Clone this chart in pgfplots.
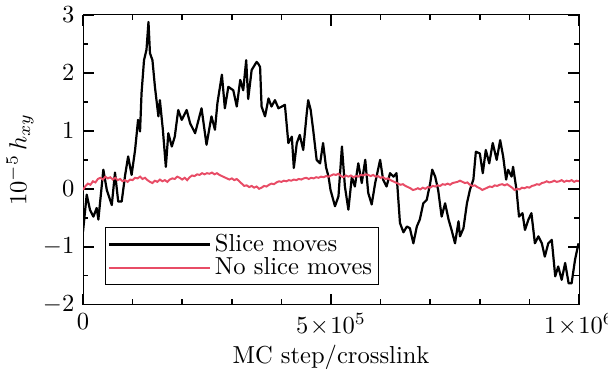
\documentclass[border=0pt]{standalone}
\usepackage{pgfplots}
\pgfplotsset{compat=1.18}
\definecolor{myred}{RGB}{232,76,102}
\pgfplotstableread{
x y
0 -0.74
7500 -0.10
14000 -0.36
21000 -0.48
27600 -0.33
31000 -0.53
41000 0.33
48000 -0.02
58000 -0.28
64500 0.28
71000 -0.22
78000 -0.22
85000 0.24
91000 0.56
98000 0.24
105000 0.67
111000 1.19
115000 0.99
118000 1.65
123000 2.22
128000 2.40
132000 2.88
135000 2.34
140000 2.22
145000 1.76
152000 1.25
155000 1.53
161000 1.02
167000 0.38
172000 0.96
179000 0.73
185000 0.90
192000 1.36
199000 1.19
209000 1.36
216000 1.13
226000 0.96
239000 1.39
249000 0.76
259000 1.25
266000 1.02
271000 1.48
280000 1.97
286000 1.39
293000 1.76
303000 1.70
310000 1.42
317000 1.88
323000 1.70
329000 2.22
333000 1.55
340000 2.05
350000 2.19
354000 2.15
357000 2.10
360000 1.42
367000 1.25
374000 1.56
380000 1.42
387000 1.53
394000 1.39
401000 1.42
407000 1.45
414000 0.79
421000 0.90
425000 0.36
431000 0.79
437000 0.93
444000 0.67
451000 1.30
454000 1.53
459000 1.36
464000 1.02
471000 0.50
478000 0.44
484000 0.79
490000 0.37
495000 0.21
499000 -0.02
508000 -0.30
515000 -0.13
522000 0.73
528000 0.04
535000 -0.36
542000 0.21
548000 0.04
555000 0.44
562000 0.10
569000 0.50
575000 -0.07
582000 -0.27
589000 0.10
599000 0.50
605000 0.16
612000 0.04
619000 0.27
626000 0.21
632000 0.27
639000 -0.59
646000 -0.75
653000 -0.65
659000 -0.68
666000 -0.94
673000 -0.65
679000 -0.53
686000 -0.25
693000 -0.19
700000 0.10
704000 0.33
710000 0.21
716000 -0.02
723000 -0.48
730000 -0.25
737000 -0.53
743000 -0.71
750000 -0.94
757000 -0.56
760000 -0.82
767000 -0.68
774000 -0.25
780000 -0.02
787000 0.16
792000 0.64
800000 0.61
806000 0.27
812000 0.67
819000 0.44
826000 0.79
834000 0.50
841000 0.84
847000 0.56
853000 0.16
857000 0.33
864000 0.21
867000 0.38
874000 -0.02
879000 -0.48
886000 -0.42
891000 -0.71
898000 -0.53
904000 -0.42
911000 -0.94
918000 -0.82
925000 -0.94
931000 -1.17
938000 -0.94
945000 -0.88
952000 -1.51
958000 -1.34
965000 -1.57
972000 -1.28
979000 -1.63
985000 -1.63
992000 -1.22
999000 -0.94
}\slice
\pgfplotstableread{
x y
0 -0.02
5000 0.05
10000 0.09
15000 0.07
20000 0.13
25000 0.11
30000 0.17
35000 0.19
40000 0.16
45000 0.21
50000 0.18
55000 0.20
60000 0.16
65000 0.19
70000 0.15
75000 0.17
80000 0.13
85000 0.15
90000 0.12
95000 0.16
100000 0.15
105000 0.19
110000 0.18
115000 0.21
120000 0.17
125000 0.19
130000 0.15
135000 0.12
140000 0.10
145000 0.14
150000 0.12
155000 0.16
160000 0.13
165000 0.15
170000 0.12
175000 0.16
180000 0.18
185000 0.17
190000 0.21
195000 0.19
200000 0.16
205000 0.19
210000 0.15
215000 0.20
220000 0.23
225000 0.22
230000 0.25
235000 0.24
240000 0.27
245000 0.25
250000 0.27
255000 0.26
260000 0.28
265000 0.25
270000 0.27
275000 0.24
280000 0.22
285000 0.20
290000 0.18
295000 0.16
300000 0.18
305000 0.15
310000 0.17
315000 0.13
320000 0.09
325000 0.05
330000 0.06
335000 0.03
340000 0.05
345000 0.02
350000 0.04
355000 0.00
360000 0.02
365000 0.05
370000 0.04
375000 0.07
380000 0.09
385000 0.08
390000 0.11
395000 0.13
400000 0.12
405000 0.14
410000 0.13
415000 0.15
420000 0.14
425000 0.16
430000 0.15
435000 0.17
440000 0.16
445000 0.18
450000 0.19
455000 0.17
460000 0.19
465000 0.18
470000 0.20
475000 0.19
480000 0.21
485000 0.20
490000 0.22
495000 0.21
500000 0.23
505000 0.25
510000 0.24
515000 0.26
520000 0.22
525000 0.20
530000 0.23
535000 0.21
540000 0.23
545000 0.20
550000 0.22
555000 0.21
560000 0.24
565000 0.23
570000 0.25
575000 0.24
580000 0.22
585000 0.24
590000 0.21
595000 0.22
600000 0.19
605000 0.20
610000 0.17
615000 0.18
620000 0.15
625000 0.13
630000 0.11
635000 0.09
640000 0.07
645000 0.08
650000 0.05
655000 0.03
660000 0.01
665000 -0.02
670000 -0.01
675000 0.01
680000 -0.01
685000 0.02
690000 0.00
695000 0.03
700000 0.02
705000 0.05
710000 0.04
715000 0.06
720000 0.05
725000 0.08
730000 0.07
735000 0.09
740000 0.07
745000 0.10
750000 0.11
755000 0.12
760000 0.14
765000 0.12
770000 0.10
775000 0.11
780000 0.07
785000 0.05
790000 0.06
795000 0.03
800000 0.01
805000 -0.02
810000 0.00
815000 0.02
820000 0.04
825000 0.03
830000 0.06
835000 0.05
840000 0.07
845000 0.08
850000 0.06
855000 0.08
860000 0.05
865000 0.02
870000 -0.02
875000 0.00
880000 -0.01
885000 0.02
890000 0.01
895000 0.03
900000 0.02
905000 0.05
910000 0.06
915000 0.08
920000 0.07
925000 0.10
930000 0.11
935000 0.13
940000 0.11
945000 0.12
950000 0.14
955000 0.12
960000 0.13
965000 0.15
970000 0.12
975000 0.14
980000 0.13
985000 0.15
990000 0.12
995000 0.14
1000000 0.13
}\noslice
\begin{document}
\begin{tikzpicture}
\begin{axis}[
  width=202pt, height=118pt, scale only axis,
  xmin=0, xmax=1000000, ymin=-2, ymax=3,
  scaled x ticks=false,
  xtick={0,500000,1000000},
  xticklabels={$0$,$5\!\times\!10^5$,$1\!\times\!10^6$},
  minor xtick={100000,200000,300000,400000,600000,700000,800000,900000},
  ytick={-2,-1,0,1,2,3},
  minor ytick={-1.5,-0.5,0.5,1.5,2.5},
  tick align=inside,
  xtick pos=both, ytick pos=both,
  major tick length=4.5pt, minor tick length=2.2pt,
  tick style={black, line width=0.6pt},
  xlabel={MC step/crosslink},
  ylabel={$10^{-5}\,h_{xy}$},
  xlabel style={yshift=3pt},
  ylabel style={yshift=-3pt},
  legend cell align=left,
  legend style={at={(0.044,0.069)}, anchor=south west, draw=black, inner sep=1pt, row sep=-2pt, nodes={inner sep=1.5pt}},
  legend image code/.code={\draw[#1] (0cm,0cm) -- (1.45cm,0cm);},
]
\addplot[black, line width=0.9pt, line join=round] table {\slice};
\addlegendentry{Slice moves}
\addplot[myred, line width=0.8pt] table {\noslice};
\addlegendentry{No slice moves}
\end{axis}
\pgfresetboundingbox
\path[use as bounding box] ([xshift=-33.8pt,yshift=-26.5pt]current axis.south west) rectangle ([xshift=11.8pt,yshift=6.1pt]current axis.north east);
\end{tikzpicture}
\end{document}
